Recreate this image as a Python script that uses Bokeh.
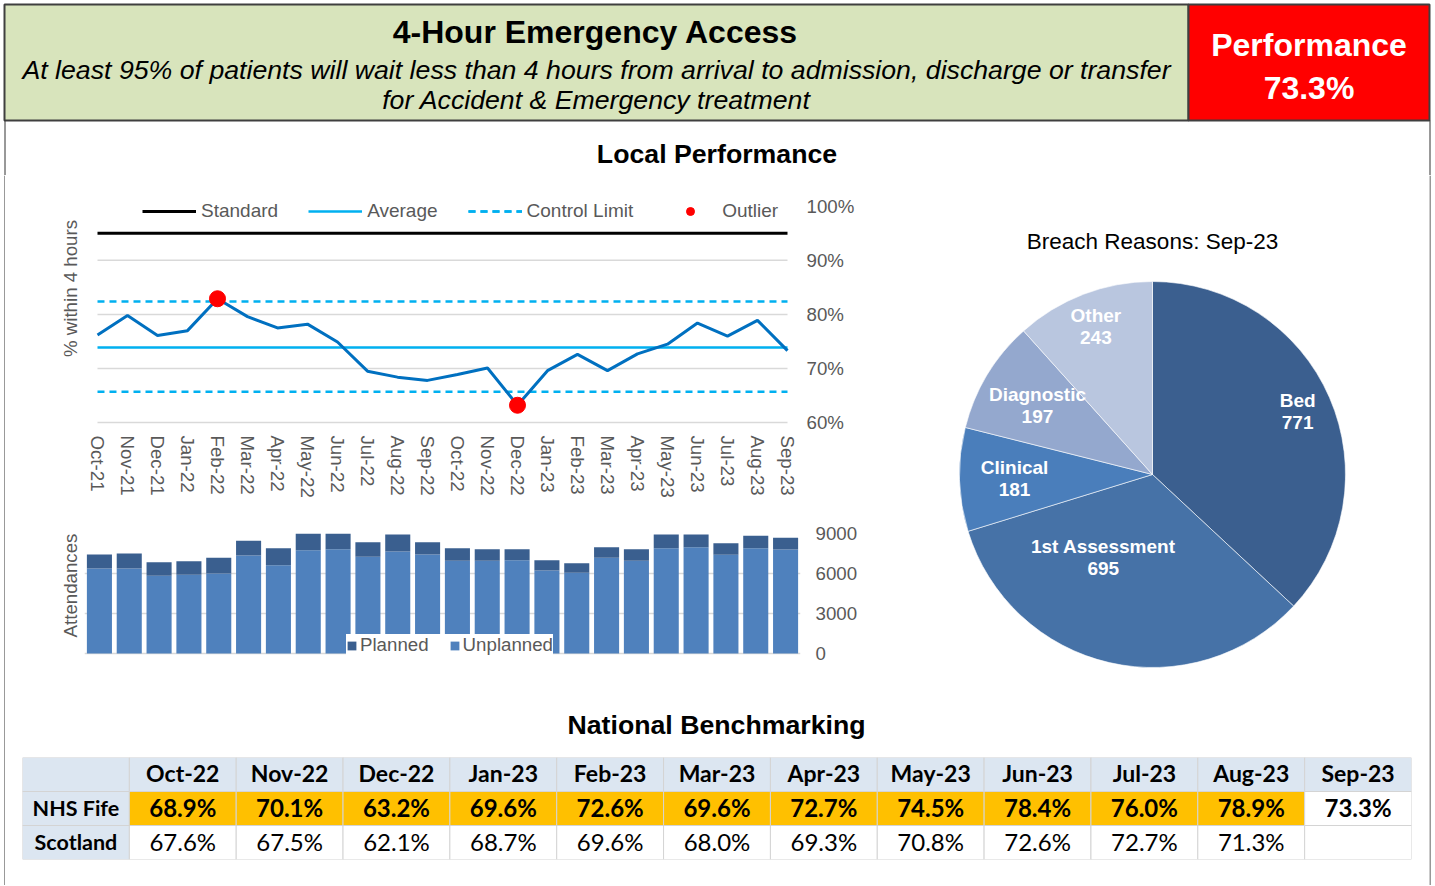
import math
from bokeh.plotting import figure
from bokeh.layouts import column, row
from bokeh.models import (Range1d, FactorRange, FixedTicker, Legend, LegendItem,
                          PrintfTickFormatter, ColumnDataSource)
from bokeh.core.properties import value
from bokeh.embed import file_html
from bokeh.resources import INLINE

# ---------------- data ----------------
months = ["Oct-21", "Nov-21", "Dec-21", "Jan-22", "Feb-22", "Mar-22", "Apr-22", "May-22",
          "Jun-22", "Jul-22", "Aug-22", "Sep-22", "Oct-22", "Nov-22", "Dec-22", "Jan-23",
          "Feb-23", "Mar-23", "Apr-23", "May-23", "Jun-23", "Jul-23", "Aug-23", "Sep-23"]
performance = [76.2, 79.8, 76.1, 77.0, 82.9, 79.6, 77.5, 78.2, 74.9, 69.5, 68.4, 67.8,
               68.9, 70.1, 63.2, 69.6, 72.6, 69.6, 72.7, 74.5, 78.4, 76.0, 78.9, 73.3]
standard = 95.0
average = 73.9
upper_limit = 82.4
lower_limit = 65.7
pct_ticks = [60, 70, 80, 90, 100]

unplanned = [6375, 6375, 5825, 5900, 6000, 7350, 6625, 7750, 7825, 7250, 7650, 7425,
             6950, 6950, 7000, 6225, 6050, 7175, 6950, 7900, 7975, 7400, 7900, 7800]
planned = [1050, 1125, 1025, 1025, 1175, 1100, 1275, 1250, 1175, 1100, 1275, 925,
           950, 875, 825, 775, 725, 800, 875, 1025, 950, 875, 925, 875]
att_ticks = [0, 3000, 6000, 9000]

breach_reasons = ["Bed", "1st Assessment", "Clinical", "Diagnostic", "Other"]
breach_counts = [771, 695, 181, 197, 243]

bench_months = ["Oct-22", "Nov-22", "Dec-22", "Jan-23", "Feb-23", "Mar-23",
                "Apr-23", "May-23", "Jun-23", "Jul-23", "Aug-23", "Sep-23"]
nhs_fife = [68.9, 70.1, 63.2, 69.6, 72.6, 69.6, 72.7, 74.5, 78.4, 76.0, 78.9, 73.3]
scotland = [67.6, 67.5, 62.1, 68.7, 69.6, 68.0, 69.3, 70.8, 72.6, 72.7, 71.3, None]

# ---------------- styles ----------------
FONT = "Liberation Sans"
TFONT = "Lato"
GREY = "#595959"
GRID = "#D9D9D9"
BORDER = "#333333"
pie_colors = ["#3B5F8F", "#4672A7", "#4A7EBB", "#94A8CE", "#B9C6DF"]
label_r = [0.82, 0.50, 0.715, 0.696, 0.82]
label_dtheta = [0.0, -17.7, 0.0, 0.0, 0.0]


def blank(width, height, xr, yr):
    p = figure(width=width, height=height, x_range=xr, y_range=yr, toolbar_location=None,
               output_backend="svg", min_border=0)
    p.axis.visible = False
    p.grid.visible = False
    p.outline_line_color = None
    return p


def vstrip(w, h, xline):
    s = blank(w, h, Range1d(0, w), Range1d(0, h))
    s.segment(x0=[xline], y0=[0], x1=[xline], y1=[h], line_color=BORDER, line_width=1)
    return s


def hstrip(w, h):
    s = blank(w, h, Range1d(0, 1), Range1d(0, 1))
    s.background_fill_color = BORDER
    s.border_fill_color = BORDER
    return s


# ---------------- header ----------------
top = blank(1435, 175, Range1d(0, 1435), Range1d(175, 0))
top.quad(left=[4, 1188], right=[1188, 1429], top=[4, 4], bottom=[120, 120],
         fill_color=["#D8E4BC", "#FF0000"], line_color="#3F3F3F", line_width=2)
top.segment(x0=[4.5, 1429.5], y0=[120, 120], x1=[4.5, 1429.5], y1=[175, 175],
            line_color=BORDER, line_width=1)
top.text(x=[595], y=[31], text=["4-Hour Emergency Access"], text_font=value(FONT),
         text_font_size="32px", text_font_style="bold", text_align="center",
         text_baseline="middle", text_color="black")
top.text(x=[596, 596], y=[69, 99],
         text=["At least 95% of patients will wait less than 4 hours from arrival to admission, discharge or transfer",
               "for Accident & Emergency treatment"],
         text_font=value(FONT), text_font_size="26.7px", text_font_style="italic",
         text_align="center", text_baseline="middle", text_color="black")
top.text(x=[1308.5, 1308.5], y=[44, 87], text=["Performance", f"{nhs_fife[-1]:.1f}%"],
         text_font=value(FONT), text_font_size="32px", text_font_style="bold",
         text_align="center", text_baseline="middle", text_color="white")
top.text(x=[716.5], y=[153], text=["Local Performance"], text_font=value(FONT),
         text_font_size="26.7px", text_font_style="bold", text_align="center",
         text_baseline="middle", text_color="black")

# ---------------- y-axis titles (left column) ----------------
lab = blank(78, 515, Range1d(0, 78), Range1d(0, 515))
lab.text(x=[65, 65], y=[402, 105], text=["% within 4 hours", "Attendances"], angle=math.pi / 2,
         text_font=value(FONT), text_font_size="18.7px", text_color=GREY,
         text_align="center", text_baseline="middle")


def style_right(ax, ticks, standoff, fmt=None):
    ax.ticker = FixedTicker(ticks=ticks)
    if fmt:
        ax.formatter = fmt
    ax.axis_line_color = None
    ax.major_tick_line_color = None
    ax.minor_tick_line_color = None
    ax.major_tick_out = 0
    ax.major_tick_in = 0
    ax.minor_tick_out = 0
    ax.major_label_standoff = standoff
    ax.major_label_text_font = FONT
    ax.major_label_text_font_size = "18.7px"
    ax.major_label_text_color = GREY


# ---------------- line chart ----------------
lf = figure(width=797, height=325,
            x_range=FactorRange(*months, range_padding=-0.0667, range_padding_units="absolute"),
            y_range=Range1d(58.9, 102.0), y_axis_location="right", toolbar_location=None,
            output_backend="svg", min_border_left=1, min_border_right=80,
            min_border_top=20, min_border_bottom=70)
lf.outline_line_color = None
style_right(lf.yaxis[0], pct_ticks, 6, PrintfTickFormatter(format="%d%%"))
lf.grid.visible = False
xa = lf.xaxis[0]
xa.major_label_orientation = "vertical"
xa.axis_line_color = None
xa.major_tick_line_color = None
xa.major_tick_out = 0
xa.major_label_standoff = 7
xa.major_label_text_font = FONT
xa.major_label_text_font_size = "18.7px"
xa.major_label_text_color = GREY

grid_vals = [t for t in pct_ticks if t < 100]
n = len(months)
lf.segment(x0=[months[0]] * len(grid_vals), y0=grid_vals, x1=[months[-1]] * len(grid_vals),
           y1=grid_vals, line_color=GRID, line_width=1.5)
r_std = lf.line(months, [standard] * n, line_color="black", line_width=3)
r_avg = lf.line(months, [average] * n, line_color="#00B0F0", line_width=2.5)
r_ucl = lf.line(months, [upper_limit] * n, line_color="#00B0F0", line_width=2.5, line_dash="7 5")
r_lcl = lf.line(months, [lower_limit] * n, line_color="#00B0F0", line_width=2.5, line_dash="7 5")
lf.line(months, performance, line_color="#0070C0", line_width=3)
out_x = [m for m, v in zip(months, performance) if v > upper_limit or v < lower_limit]
out_y = [v for v in performance if v > upper_limit or v < lower_limit]
r_out = lf.scatter(out_x, out_y, size=16, fill_color="#FF0000", line_color="#FF0000")

lleg = Legend(items=[LegendItem(label="Standard", renderers=[r_std]),
                     LegendItem(label="Average", renderers=[r_avg]),
                     LegendItem(label="Control Limit", renderers=[r_ucl, r_lcl]),
                     LegendItem(label="Outlier", renderers=[r_out])],
              orientation="horizontal", location=(58, 206), glyph_width=54, glyph_height=20,
              label_standoff=5, spacing=30, padding=6, background_fill_alpha=0,
              border_line_color=None, label_text_font=FONT, label_text_font_size="19px",
              label_text_color=GREY)
lf.add_layout(lleg)

# ---------------- bar chart ----------------
bf = figure(width=797, height=190, x_range=FactorRange(*months), y_range=Range1d(-225, 9000),
            y_axis_location="right", toolbar_location=None, output_backend="svg",
            min_border_left=1, min_border_right=80, min_border_top=33, min_border_bottom=34)
bf.outline_line_color = None
bf.xaxis.visible = False
style_right(bf.yaxis[0], att_ticks, 15)
bf.xgrid.visible = False
bf.ygrid.ticker = FixedTicker(ticks=att_ticks)
bf.ygrid.grid_line_color = GRID
bf.ygrid.grid_line_width = 1.5
src = ColumnDataSource(dict(month=months, unplanned=unplanned, planned=planned))
rs = bf.vbar_stack(["unplanned", "planned"], x="month", width=0.84,
                   color=["#4F81BD", "#3A5F8F"], line_color=None, source=src)
bleg = Legend(items=[LegendItem(label="Planned", renderers=[rs[1]]),
                     LegendItem(label="Unplanned", renderers=[rs[0]])],
              orientation="horizontal", location=(262, 0), glyph_width=11, glyph_height=11,
              label_standoff=3, spacing=20, padding=2, background_fill_color="white",
              background_fill_alpha=1, border_line_color=None, label_text_font=FONT,
              label_text_font_size="18.7px", label_text_color=GREY)
bf.add_layout(bleg)

# ---------------- pie ----------------
pf = blank(549, 515, Range1d(0, 549), Range1d(0, 515))
cx, cy, R = 272, 216, 193
total = sum(breach_counts)
starts, ends = [], []
acc = 0
for c in breach_counts:
    starts.append(math.pi / 2 - 2 * math.pi * acc / total)
    acc += c
    ends.append(math.pi / 2 - 2 * math.pi * acc / total)
pf.wedge(x=cx, y=cy, radius=R, start_angle=starts, end_angle=ends, direction="clock",
         fill_color=pie_colors, line_color="white", line_width=0.6)
lx, ly = [], []
for s, e, rf, dt in zip(starts, ends, label_r, label_dtheta):
    mid = (s + e) / 2 + math.radians(dt)
    lx.append(cx + rf * R * math.cos(mid))
    ly.append(cy + rf * R * math.sin(mid))
pf.text(x=lx, y=ly, text=breach_reasons, y_offset=-11, text_font=value(FONT),
        text_font_size="19px", text_font_style="bold", text_color="white",
        text_align="center", text_baseline="middle")
pf.text(x=lx, y=ly, text=[str(c) for c in breach_counts], y_offset=11, text_font=value(FONT),
        text_font_size="19px", text_font_style="bold", text_color="white",
        text_align="center", text_baseline="middle")
pf.text(x=[cx], y=[449], text=["Breach Reasons: Sep-23"], text_font=value(FONT),
        text_font_size="22.5px", text_color="black", text_align="center", text_baseline="middle")

# ---------------- benchmarking table ----------------
bt = blank(1424, 67, Range1d(0, 1424), Range1d(67, 0))
bt.text(x=[711.5], y=[34], text=["National Benchmarking"], text_font=value(FONT),
        text_font_size="26.7px", text_font_style="bold", text_align="center",
        text_baseline="middle", text_color="black")

cols = ["label"] + bench_months
rows_ = ["Scotland", "NHS Fife", "header"]
tf = figure(width=1424, height=127, x_range=FactorRange(*cols), y_range=FactorRange(*rows_),
            toolbar_location=None, output_backend="svg", min_border_left=17,
            min_border_right=18, min_border_top=0, min_border_bottom=25)
tf.axis.visible = False
tf.grid.visible = False
tf.outline_line_color = None
HDR = "#DCE6F1"
cx_, cy_, fill = [], [], []
for r in rows_:
    for c in cols:
        cx_.append(c)
        cy_.append(r)
        if r == "header" or c == "label":
            fill.append(HDR)
        elif r == "NHS Fife":
            i = bench_months.index(c)
            sc = scotland[i]
            fill.append("#FFC000" if (sc is not None and nhs_fife[i] > sc) else "white")
        else:
            fill.append("white")
tf.rect(x=cx_, y=cy_, width=1, height=1, fill_color=fill, line_color="#D4D4D4", line_width=1)
tf.text(x=bench_months, y=["header"] * 12, text=bench_months, text_font=value(TFONT),
        text_font_size="23px", text_font_style="bold", text_align="center",
        text_baseline="middle", text_color="black", y_offset=-2)
tf.text(x=["label", "label"], y=["NHS Fife", "Scotland"], text=["NHS Fife", "Scotland"],
        text_font=value(TFONT), text_font_size="21.5px", text_font_style="bold",
        text_align="center", text_baseline="middle", text_color="black", y_offset=-1)
tf.text(x=bench_months, y=["NHS Fife"] * 12, text=[f"{v:.1f}%" for v in nhs_fife],
        text_font=value(TFONT), text_font_size="24px", text_font_style="bold",
        text_align="center", text_baseline="middle", text_color="black", y_offset=-1)
sc_m = [m for m, v in zip(bench_months, scotland) if v is not None]
sc_v = [f"{v:.1f}%" for v in scotland if v is not None]
tf.text(x=sc_m, y=["Scotland"] * len(sc_m), text=sc_v, text_font=value(TFONT),
        text_font_size="24px", text_align="center", text_baseline="middle", text_color="black",
        y_offset=-1)

# ---------------- layout ----------------
mid = row(lab, column(lf, bf), pf)
body = column(mid, bt, tf, hstrip(1424, 1))
root = column(top, row(vstrip(5, 710, 4.5), body, vstrip(6, 710, 0.5)))

open("out.html", "w").write(file_html(root, INLINE, "4-Hour Emergency Access"))
